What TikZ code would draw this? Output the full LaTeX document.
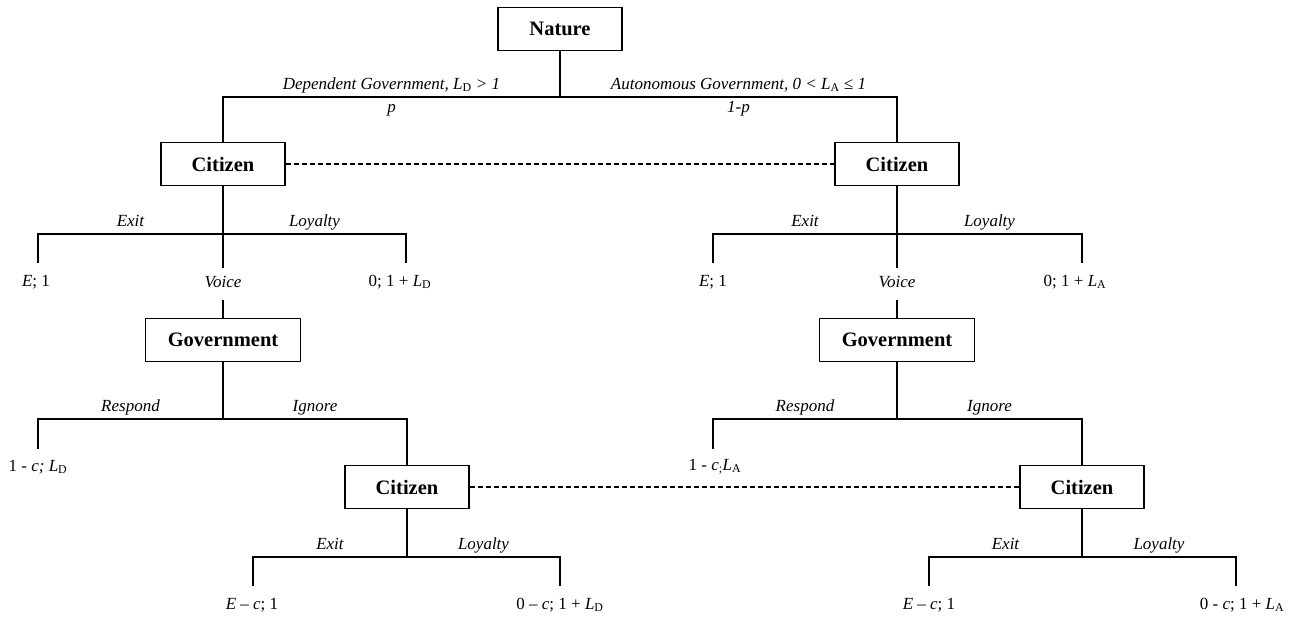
\documentclass[tikz,border=0pt]{standalone}
\usepackage{fontspec}
\setmainfont{Liberation Serif}
\tikzstyle{player}=[draw=black, line width=1.3pt, minimum width=124pt, minimum height=43pt, inner sep=0pt, font=\fontsize{20.5}{24}\selectfont\bfseries]
\tikzstyle{act}=[font=\fontsize{17}{20}\selectfont\itshape, inner sep=0pt, text height=12pt, text depth=4pt]
\tikzstyle{pay}=[font=\fontsize{17}{20}\selectfont, inner sep=0pt]
\tikzstyle{info}=[line width=1.1pt, dash pattern=on 5pt off 3pt]
\newcommand{\sub}[1]{\textsubscript{\upshape #1}}

\begin{document}
\begin{tikzpicture}[x=1pt, y=-1pt, line width=1.3pt]
    \useasboundingbox (0,0) rectangle (1294,620);
    \node[player] (nature) at (560,29) {Nature};
    \node[player] (cit1) at (223,164) {Citizen};
    \node[player] (cit2) at (897,164) {Citizen};
    \node[player, minimum width=155pt] (gov1) at (223,340) {Government};
    \node[player, minimum width=155pt] (gov2) at (897,340) {Government};
    \node[player] (cit3) at (407,487) {Citizen};
    \node[player] (cit4) at (1082,487) {Citizen};
    \node[act, minimum height=30pt] (voice1) at (223,284) {Voice};
    \node[act, minimum height=30pt] (voice2) at (897,284) {Voice};
    \coordinate (jn) at (560,97);
    \coordinate (j1) at (223,234);
    \coordinate (j2) at (897,234);
    \coordinate (j3) at (223,419);
    \coordinate (j4) at (897,419);
    \coordinate (j5) at (407,557);
    \coordinate (j6) at (1082,557);
    \coordinate (exit1) at (38,263);
    \coordinate (loy1) at (406,263);
    \coordinate (exit2) at (713,263);
    \coordinate (loy2) at (1082,263);
    \coordinate (resp1) at (38,449);
    \coordinate (resp2) at (713,449);
    \coordinate (exit3) at (253,586);
    \coordinate (loy3) at (560,586);
    \coordinate (exit4) at (929,586);
    \coordinate (loy4) at (1236,586);
    \draw (nature) -- (jn);
    \draw (cit1) |- (jn) node[pos=.75, above=3pt, act] {Dependent Government, L\sub{D} > 1} node[pos=.75, below=3pt, act] {p}
        -| (cit2) node[pos=.25, above=3pt, act, xshift=10pt] {Autonomous Government, 0 < L\sub{A} ≤ 1} node[pos=.25, below=3pt, act, xshift=10pt] {1-p};
    \draw[info] (cit1) -- (cit2);
    \draw[info] (cit3) -- (cit4);
    \draw (cit1) -- (voice1);
    \draw (voice1) -- (gov1);
    \draw (cit2) -- (voice2);
    \draw (voice2) -- (gov2);
    \draw (exit1) |- (j1) node[pos=.75, above=3pt, act] {Exit} -| (loy1) node[pos=.25, above=3pt, act] {Loyalty};
    \draw (exit2) |- (j2) node[pos=.75, above=3pt, act] {Exit} -| (loy2) node[pos=.25, above=3pt, act] {Loyalty};
    \draw (gov1) -- (j3);
    \draw (resp1) |- (j3) node[pos=.75, above=3pt, act] {Respond} -| (cit3) node[pos=.25, above=3pt, act] {Ignore};
    \draw (gov2) -- (j4);
    \draw (resp2) |- (j4) node[pos=.75, above=3pt, act] {Respond} -| (cit4) node[pos=.25, above=3pt, act] {Ignore};
    \draw (cit3) -- (j5);
    \draw (exit3) |- (j5) node[pos=.75, above=3pt, act] {Exit} -| (loy3) node[pos=.25, above=3pt, act] {Loyalty};
    \draw (cit4) -- (j6);
    \draw (exit4) |- (j6) node[pos=.75, above=3pt, act] {Exit} -| (loy4) node[pos=.25, above=3pt, act] {Loyalty};
    \node[pay] (pay1) at (36,282) {\textit{E}; 1};
    \node[pay] (pay2) at (400,282) {0; 1 + \textit{L}\sub{D}};
    \node[pay] (pay3) at (713,282) {\textit{E}; 1};
    \node[pay] (pay4) at (1075,282) {0; 1 + \textit{L}\sub{A}};
    \node[pay] (pay5) at (38,467) {1 - \textit{c; L}\sub{D}};
    \node[pay] (pay6) at (715,467) {1 - \textit{c}\sub{;}\textit{L}\sub{A}};
    \node[pay] (pay7) at (252,605) {\textit{E} – \textit{c}; 1};
    \node[pay] (pay8) at (560,605) {0 – \textit{c}; 1 + \textit{L}\sub{D}};
    \node[pay] (pay9) at (929,605) {\textit{E} – \textit{c}; 1};
    \node[pay] (pay10) at (1242,605) {0 - \textit{c}; 1 + \textit{L}\sub{A}};
\end{tikzpicture}
\end{document}
